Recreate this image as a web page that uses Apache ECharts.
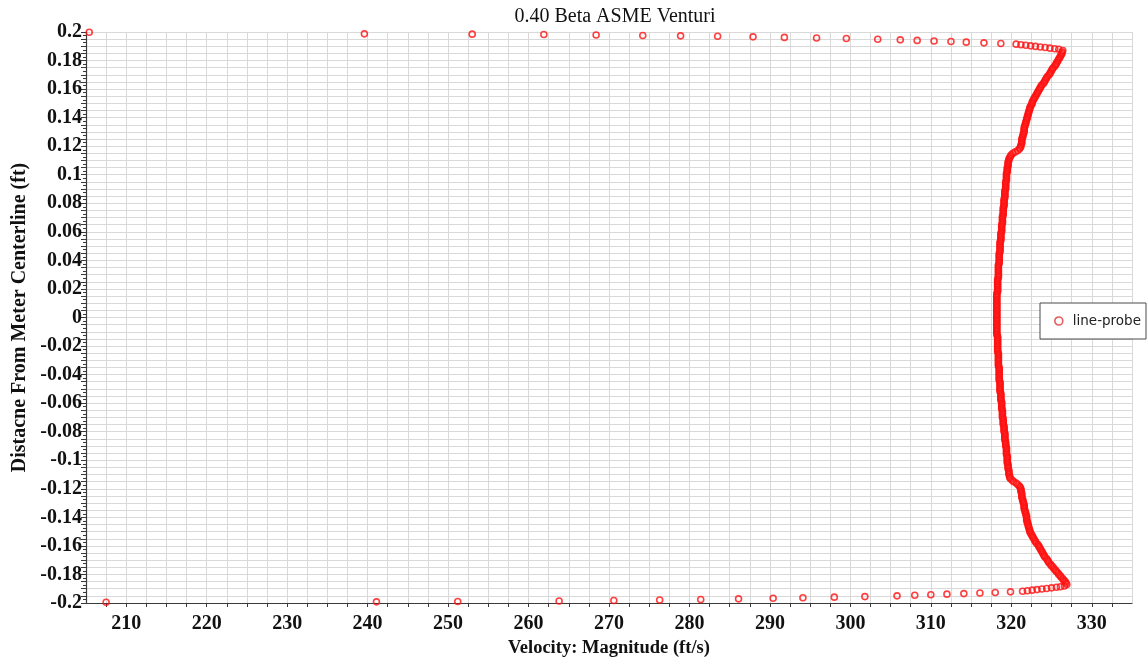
<!DOCTYPE html>
<html>
<head>
<meta charset="utf-8">
<title>0.40 Beta ASME Venturi</title>
<script src="https://cdn.jsdelivr.net/npm/echarts@6.0.0/dist/echarts.min.js"></script>
<style>
  html, body { margin: 0; padding: 0; background: #ffffff; }
  #chart { width: 1148px; height: 660px; }
</style>
</head>
<body>
<div id="chart"></div>
<script>
// Line-probe samples across the venturi throat: velocity magnitude (ft/s)
// against distance from the meter centerline (ft).

// Near-wall cells at the upper wall (sparse prism layers, then the fine band)
const upperWallPos = [0.1998, 0.1987, 0.1985, 0.1982, 0.1979, 0.1976, 0.1973, 0.1970, 0.1966, 0.1962,
  0.1958, 0.1954, 0.1949, 0.1945, 0.1941, 0.1937, 0.1933, 0.1929, 0.1924, 0.1919,
  0.1915, 0.1911, 0.1907, 0.1903, 0.1899, 0.1895, 0.1891, 0.1887, 0.1883, 0.1879];
const upperWallVel = [205.4, 239.6, 253.0, 261.9, 268.4, 274.2, 278.9, 283.5, 287.9, 291.8,
  295.8, 299.5, 303.4, 306.2, 308.3, 310.4, 312.5, 314.4, 316.6, 318.7,
  320.6, 321.2, 321.8, 322.4, 323.0, 323.6, 324.2, 324.8, 325.4, 325.9];

// Core flow, upper half
const coreUpperPos = [0.187, 0.186, 0.185, 0.184, 0.183, 0.182, 0.181, 0.18,
  0.179, 0.178, 0.177, 0.176, 0.175, 0.174, 0.173, 0.172, 0.171, 0.17,
  0.169, 0.168, 0.167, 0.166, 0.165, 0.164, 0.163, 0.162, 0.161, 0.16,
  0.159, 0.158, 0.157, 0.156, 0.155, 0.154, 0.153, 0.152, 0.151, 0.15,
  0.149, 0.148, 0.147, 0.146, 0.145, 0.144, 0.143, 0.142, 0.141, 0.14,
  0.139, 0.138, 0.137, 0.136, 0.135, 0.134, 0.133, 0.132, 0.131, 0.13,
  0.129, 0.128, 0.127, 0.126, 0.125, 0.124, 0.123, 0.122, 0.121, 0.12,
  0.119, 0.118, 0.117, 0.116, 0.115, 0.114, 0.113, 0.112, 0.111, 0.11,
  0.109, 0.108, 0.107, 0.106, 0.105, 0.104, 0.103, 0.102, 0.101, 0.1,
  0.099, 0.098, 0.097, 0.096, 0.095, 0.094, 0.093, 0.092, 0.091, 0.09,
  0.089, 0.088, 0.087, 0.086, 0.085, 0.084, 0.083, 0.082, 0.081, 0.08,
  0.079, 0.078, 0.077, 0.076, 0.075, 0.074, 0.073, 0.072, 0.071, 0.07,
  0.069, 0.068, 0.067, 0.066, 0.065, 0.064, 0.063, 0.062, 0.061, 0.06,
  0.059, 0.058, 0.057, 0.056, 0.055, 0.054, 0.053, 0.052, 0.051, 0.05,
  0.049, 0.048, 0.047, 0.046, 0.045, 0.044, 0.043, 0.042, 0.041, 0.04,
  0.039, 0.038, 0.037, 0.036, 0.035, 0.034, 0.033, 0.032, 0.031, 0.03,
  0.029, 0.028, 0.027, 0.026, 0.025, 0.024, 0.023, 0.022, 0.021, 0.02,
  0.019, 0.018, 0.017, 0.016, 0.015, 0.014, 0.013, 0.012, 0.011, 0.01,
  0.009, 0.008, 0.007, 0.006, 0.005, 0.004, 0.003, 0.002, 0.001, 0];
const coreUpperVel = [326.4, 326.3, 326.3, 326.2, 326.1, 326.0, 325.9, 325.8,
  325.7, 325.6, 325.5, 325.4, 325.2, 325.1, 325.0, 324.9, 324.8, 324.7,
  324.5, 324.4, 324.3, 324.2, 324.1, 324.0, 323.8, 323.7, 323.6, 323.5,
  323.4, 323.3, 323.2, 323.1, 323.0, 322.9, 322.8, 322.7, 322.6, 322.6,
  322.5, 322.4, 322.3, 322.3, 322.2, 322.2, 322.1, 322.1, 322.0, 322.0,
  321.9, 321.9, 321.8, 321.8, 321.7, 321.7, 321.6, 321.6, 321.6, 321.6,
  321.5, 321.5, 321.4, 321.4, 321.3, 321.3, 321.3, 321.3, 321.2, 321.2,
  321.1, 321.0, 320.8, 320.5, 320.2, 320.0, 319.9, 319.8, 319.7, 319.7,
  319.6, 319.6, 319.6, 319.6, 319.5, 319.5, 319.5, 319.5, 319.4, 319.4,
  319.4, 319.4, 319.4, 319.4, 319.3, 319.3, 319.3, 319.3, 319.3, 319.3,
  319.2, 319.2, 319.2, 319.2, 319.2, 319.2, 319.1, 319.1, 319.1, 319.1,
  319.1, 319.1, 319.0, 319.0, 319.0, 319.0, 319.0, 319.0, 318.9, 318.9,
  318.9, 318.9, 318.9, 318.9, 318.8, 318.8, 318.8, 318.8, 318.8, 318.8,
  318.7, 318.7, 318.7, 318.7, 318.7, 318.7, 318.6, 318.6, 318.6, 318.6,
  318.6, 318.6, 318.6, 318.6, 318.5, 318.5, 318.5, 318.5, 318.5, 318.5,
  318.5, 318.5, 318.4, 318.4, 318.4, 318.4, 318.4, 318.4, 318.4, 318.4,
  318.4, 318.4, 318.3, 318.3, 318.3, 318.3, 318.3, 318.3, 318.3, 318.3,
  318.3, 318.3, 318.2, 318.2, 318.2, 318.2, 318.2, 318.2, 318.2, 318.2,
  318.2, 318.2, 318.2, 318.2, 318.2, 318.2, 318.2, 318.2, 318.2, 318.2];

// Core flow, lower half
const coreLowerPos = [-0.001, -0.002, -0.003, -0.004, -0.005, -0.006, -0.007, -0.008, -0.009, -0.01,
  -0.011, -0.012, -0.013, -0.014, -0.015, -0.016, -0.017, -0.018, -0.019, -0.02,
  -0.021, -0.022, -0.023, -0.024, -0.025, -0.026, -0.027, -0.028, -0.029, -0.03,
  -0.031, -0.032, -0.033, -0.034, -0.035, -0.036, -0.037, -0.038, -0.039, -0.04,
  -0.041, -0.042, -0.043, -0.044, -0.045, -0.046, -0.047, -0.048, -0.049, -0.05,
  -0.051, -0.052, -0.053, -0.054, -0.055, -0.056, -0.057, -0.058, -0.059, -0.06,
  -0.061, -0.062, -0.063, -0.064, -0.065, -0.066, -0.067, -0.068, -0.069, -0.07,
  -0.071, -0.072, -0.073, -0.074, -0.075, -0.076, -0.077, -0.078, -0.079, -0.08,
  -0.081, -0.082, -0.083, -0.084, -0.085, -0.086, -0.087, -0.088, -0.089, -0.09,
  -0.091, -0.092, -0.093, -0.094, -0.095, -0.096, -0.097, -0.098, -0.099, -0.1,
  -0.101, -0.102, -0.103, -0.104, -0.105, -0.106, -0.107, -0.108, -0.109, -0.11,
  -0.111, -0.112, -0.113, -0.114, -0.115, -0.116, -0.117, -0.118, -0.119, -0.12,
  -0.121, -0.122, -0.123, -0.124, -0.125, -0.126, -0.127, -0.128, -0.129, -0.13,
  -0.131, -0.132, -0.133, -0.134, -0.135, -0.136, -0.137, -0.138, -0.139, -0.14,
  -0.141, -0.142, -0.143, -0.144, -0.145, -0.146, -0.147, -0.148, -0.149, -0.15,
  -0.151, -0.152, -0.153, -0.154, -0.155, -0.156, -0.157, -0.158, -0.159, -0.16,
  -0.161, -0.162, -0.163, -0.164, -0.165, -0.166, -0.167, -0.168, -0.169, -0.17,
  -0.171, -0.172, -0.173, -0.174, -0.175, -0.176, -0.177, -0.178, -0.179, -0.18,
  -0.181, -0.182, -0.183, -0.184, -0.185, -0.186, -0.187];
const coreLowerVel = [318.2, 318.2, 318.2, 318.2, 318.2, 318.2, 318.2, 318.2, 318.2, 318.2,
  318.2, 318.2, 318.3, 318.3, 318.3, 318.3, 318.3, 318.3, 318.3, 318.3,
  318.3, 318.3, 318.3, 318.3, 318.4, 318.4, 318.4, 318.4, 318.4, 318.4,
  318.4, 318.4, 318.4, 318.4, 318.5, 318.5, 318.5, 318.5, 318.5, 318.5,
  318.5, 318.5, 318.5, 318.5, 318.6, 318.6, 318.6, 318.6, 318.6, 318.6,
  318.6, 318.6, 318.7, 318.7, 318.7, 318.7, 318.7, 318.7, 318.8, 318.8,
  318.8, 318.8, 318.8, 318.8, 318.9, 318.9, 318.9, 318.9, 318.9, 318.9,
  319.0, 319.0, 319.0, 319.0, 319.0, 319.1, 319.1, 319.1, 319.1, 319.1,
  319.2, 319.2, 319.2, 319.2, 319.2, 319.2, 319.3, 319.3, 319.3, 319.3,
  319.4, 319.4, 319.4, 319.4, 319.4, 319.4, 319.5, 319.5, 319.5, 319.5,
  319.5, 319.5, 319.6, 319.6, 319.6, 319.6, 319.7, 319.7, 319.7, 319.7,
  319.8, 319.8, 319.9, 320.1, 320.3, 320.6, 320.8, 321.0, 321.1, 321.2,
  321.2, 321.2, 321.3, 321.3, 321.3, 321.3, 321.4, 321.4, 321.5, 321.5,
  321.6, 321.6, 321.6, 321.6, 321.7, 321.7, 321.8, 321.8, 321.9, 321.9,
  321.9, 321.9, 322.0, 322.0, 322.1, 322.1, 322.2, 322.2, 322.3, 322.3,
  322.4, 322.5, 322.6, 322.7, 322.8, 322.9, 323.0, 323.1, 323.3, 323.4,
  323.5, 323.6, 323.7, 323.8, 323.9, 324.0, 324.1, 324.2, 324.4, 324.5,
  324.6, 324.7, 324.9, 325.0, 325.2, 325.3, 325.5, 325.6, 325.8, 325.9,
  326.1, 326.2, 326.4, 326.5, 326.7, 326.8, 326.9];

// Near-wall cells at the lower wall (fine band, then sparse prism layers)
const lowerWallPos = [-0.1881, -0.1886, -0.1890, -0.1894, -0.1898, -0.1902, -0.1906, -0.1910, -0.1914, -0.1918,
  -0.1922, -0.1926, -0.1930, -0.1934, -0.1938, -0.1942, -0.1946, -0.1950, -0.1955, -0.1959,
  -0.1963, -0.1967, -0.1971, -0.1975, -0.1979, -0.1983, -0.1986, -0.1989, -0.1992, -0.1995];
const lowerWallVel = [326.6, 326.1, 325.6, 325.0, 324.4, 323.8, 323.2, 322.6, 322.0, 321.4,
  319.9, 318.0, 316.1, 314.1, 312.0, 310.0, 308.0, 305.8, 301.8, 298.0,
  294.1, 290.4, 286.1, 281.4, 276.3, 270.6, 263.8, 251.2, 241.1, 207.5];

// Axis ranges and label steps
const velMin = 205, velMax = 335, velStep = 2.5, velLabelStep = 10;
const posMin = -0.2, posMax = 0.2, posStep = 0.005, posLabelStep = 0.02;

function pairs(vel, pos) {
  return vel.map((v, i) => [v, pos[i]]);
}
const probePoints = []
  .concat(pairs(upperWallVel, upperWallPos))
  .concat(pairs(coreUpperVel, coreUpperPos))
  .concat(pairs(coreLowerVel, coreLowerPos))
  .concat(pairs(lowerWallVel, lowerWallPos));

const serif = '"Liberation Serif", "Times New Roman", serif';
const gridColor = '#d9d9d9';
const axisColor = '#3a3a3a';
const probeRed = '#ff1010';

const chart = echarts.init(document.getElementById('chart'), null, { renderer: 'canvas' });

chart.setOption({
  animation: false,
  backgroundColor: '#ffffff',
  title: {
    text: '0.40 Beta ASME Venturi',
    left: 610,
    top: 2,
    textAlign: 'center',
    textStyle: { fontFamily: serif, fontSize: 20, fontWeight: 'normal', color: '#111' }
  },
  legend: {
    orient: 'vertical',
    left: 1040,
    top: 303,
    padding: [11, 5, 11, 14],
    backgroundColor: '#ffffff',
    borderColor: '#4a4a4a',
    borderWidth: 1,
    borderRadius: 0,
    itemWidth: 8,
    itemHeight: 8,
    itemGap: 6,
    textStyle: {
      fontFamily: '"DejaVu Sans", sans-serif',
      fontSize: 13.5,
      color: '#222',
      padding: [0, 0, 0, 5]
    },
    data: [{
      name: 'line-probe',
      icon: 'circle',
      itemStyle: { color: 'rgba(0,0,0,0)', borderColor: '#e03535', borderWidth: 1.6 }
    }]
  },
  grid: { left: 86, right: 16, top: 32, bottom: 57, containLabel: false, outerBoundsMode: 'none' },
  xAxis: {
    type: 'value',
    min: velMin,
    max: velMax,
    interval: velStep,
    name: 'Velocity: Magnitude (ft/s)',
    nameLocation: 'middle',
    nameGap: 36,
    nameMoveOverlap: false,
    nameTextStyle: { fontFamily: serif, fontSize: 18.5, fontWeight: 'bold', color: '#111' },
    axisLine: { show: true, onZero: false, lineStyle: { color: axisColor, width: 1.2 } },
    axisTick: { show: true, length: 4, lineStyle: { color: axisColor } },
    axisLabel: {
      margin: 11,
      fontFamily: serif,
      fontSize: 20,
      fontWeight: 'bold',
      color: '#111',
      showMinLabel: false,
      showMaxLabel: false,
      formatter: function (v) {
        const k = v / velLabelStep;
        return Math.abs(k - Math.round(k)) < 1e-6 ? String(Math.round(v)) : '';
      }
    },
    splitLine: { show: true, lineStyle: { color: gridColor, width: 1 } }
  },
  yAxis: {
    type: 'value',
    min: posMin,
    max: posMax,
    interval: posStep,
    name: 'Distacne From Meter Centerline (ft)',
    nameLocation: 'middle',
    nameRotate: 90,
    nameGap: 56,
    nameMoveOverlap: false,
    nameTextStyle: { fontFamily: serif, fontSize: 20, fontWeight: 'bold', color: '#111' },
    axisLine: { show: true, onZero: false, lineStyle: { color: axisColor, width: 1.2 } },
    axisTick: { show: true, length: 5, lineStyle: { color: axisColor } },
    minorTick: { show: true, splitNumber: 2, length: 3, lineStyle: { color: axisColor } },
    axisLabel: {
      margin: 4,
      fontFamily: serif,
      fontSize: 20,
      fontWeight: 'bold',
      color: '#111',
      formatter: function (v) {
        const k = v / posLabelStep;
        if (Math.abs(k - Math.round(k)) > 1e-6) return '';
        const r = Number((Math.round(k) * posLabelStep).toFixed(2));
        return r === 0 ? '0' : String(r);
      }
    },
    splitLine: { show: true, lineStyle: { color: gridColor, width: 1 } }
  },
  series: [{
    name: 'line-probe',
    type: 'scatter',
    data: probePoints,
    symbol: 'circle',
    symbolSize: 6,
    clip: true,
    itemStyle: { color: 'rgba(0,0,0,0)', borderColor: probeRed, borderWidth: 1.6 },
    emphasis: { disabled: true }
  }]
});
</script>
</body>
</html>
